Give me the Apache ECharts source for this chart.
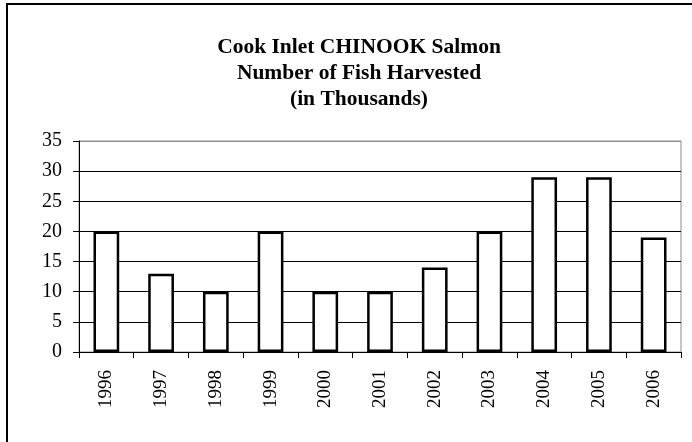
<!DOCTYPE html>
<html>
<head>
<meta charset="utf-8">
<script src="https://cdn.jsdelivr.net/npm/echarts@6/dist/echarts.min.js"></script>
<style>
  html, body { margin: 0; padding: 0; background: #fff; }
  #chart { width: 692px; height: 442px; }
</style>
</head>
<body>
<div id="chart"></div>
<script>
// 年份与捕捞数量（千尾）
const years = ['1996', '1997', '1998', '1999', '2000', '2001', '2002', '2003', '2004', '2005', '2006'];
const harvested = [20, 13, 10, 20, 10, 10, 14, 20, 29, 29, 19];
const titleLines = ['Cook Inlet CHINOOK Salmon', 'Number of Fish Harvested', '(in Thousands)'];

const serif = '"Liberation Serif", "Times New Roman", serif';
const myChart = echarts.init(document.getElementById('chart'));

myChart.setOption({
  animation: false,
  backgroundColor: '#fff',
  textStyle: { fontFamily: serif },
  title: {
    text: titleLines.join('\n'),
    left: 354,
    textAlign: 'center',
    top: 29,
    textStyle: {
      fontFamily: serif,
      fontSize: 21.5,
      fontWeight: 'bold',
      color: '#000',
      lineHeight: 26,
    },
  },
  // 外框（只露出左边和上边）
  graphic: [
    {
      type: 'rect',
      shape: { x: 7, y: 4, width: 720, height: 480 },
      style: { fill: 'none', stroke: '#000', lineWidth: 2 },
      silent: true,
    },
  ],
  grid: {
    left: 79,
    right: 11,
    top: 141,
    bottom: 90,
    show: true,
    borderColor: '#8c8c8c',
    borderWidth: 1,
  },
  xAxis: {
    type: 'category',
    data: years,
    axisLine: { lineStyle: { color: '#000', width: 1 } },
    axisTick: { show: true, alignWithLabel: false, length: 6, lineStyle: { color: '#000' } },
    axisLabel: {
      rotate: 90,
      margin: 18,
      fontFamily: serif,
      fontSize: 19,
      color: '#000',
    },
  },
  yAxis: {
    type: 'value',
    min: 0,
    max: 35,
    interval: 5,
    axisLine: { show: true, lineStyle: { color: '#000', width: 1 } },
    axisTick: { show: true, length: 6, lineStyle: { color: '#000' } },
    axisLabel: { margin: 17, fontFamily: serif, fontSize: 20, color: '#000' },
    splitLine: {
      lineStyle: {
        color: ['#000', '#000', '#000', '#000', '#000', '#000', '#000', '#8c8c8c'],
        width: 1,
      },
    },
  },
  series: [
    {
      type: 'bar',
      data: harvested,
      barWidth: '47%',
      itemStyle: { color: '#fff', borderColor: '#000', borderWidth: 2.5 },
    },
  ],
});
</script>
</body>
</html>
